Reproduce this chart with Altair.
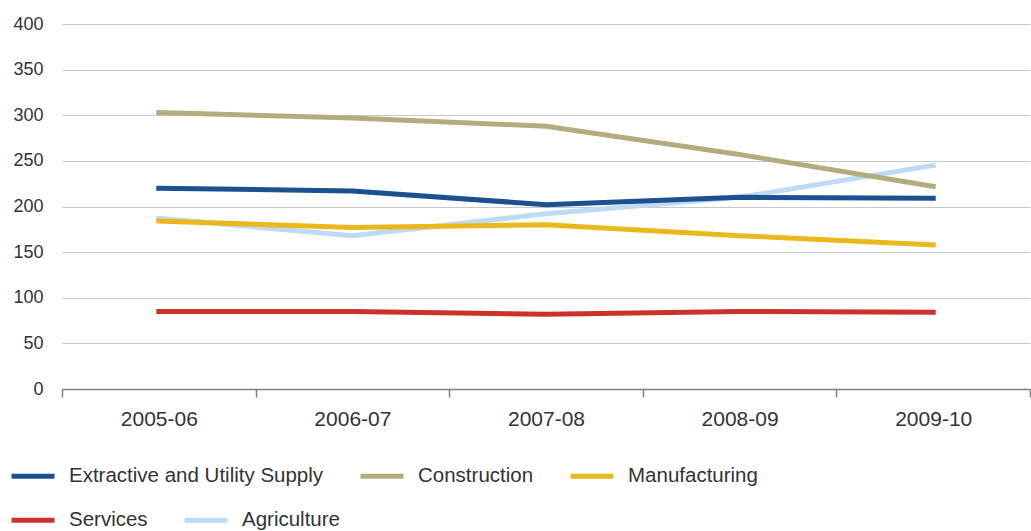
import altair as alt
import pandas as pd

years = ["2005-06", "2006-07", "2007-08", "2008-09", "2009-10"]
names_row1 = ["Extractive and Utility Supply", "Construction", "Manufacturing"]
names_row2 = ["Services", "Agriculture"]
extractive = [220, 217, 202, 210, 209]
construction = [303, 297, 288, 257, 222]
manufacturing = [184, 177, 180, 168, 158]
services = [85, 85, 82, 85, 84]
agriculture = [187, 168, 192, 210, 245]
colors_row1 = ["#1b5091", "#b3ad7e", "#ebb81b"]
colors_row2 = ["#c93328", "#bfdaf4"]
y_ticks = [0, 50, 100, 150, 200, 250, 300, 350, 400]


def build(pairs):
    rows = []
    for name, vals in pairs:
        for yr, v in zip(years, vals):
            rows.append({"Year": yr, "Sector": name, "Value": v})
    return pd.DataFrame(rows)


df1 = build([("Extractive and Utility Supply", extractive),
             ("Construction", construction),
             ("Manufacturing", manufacturing)])
df2 = build([("Services", services), ("Agriculture", agriculture)])

FONT = "Liberation Sans"

x_enc = alt.X("Year:N", sort=years, bandPosition=0.5,
              scale=alt.Scale(type="band", paddingInner=0, paddingOuter=0),
              axis=alt.Axis(title=None, labelAngle=0, tickBand="extent", labelFontSize=21,
                            labelFont=FONT, labelColor="#333333", labelPadding=11,
                            domainColor="#808080", domainWidth=1.5, tickColor="#808080",
                            tickWidth=1.5, tickSize=8, grid=False))
y_enc = alt.Y("Value:Q", scale=alt.Scale(domain=[0, 400], nice=False),
              axis=alt.Axis(title=None, values=y_ticks, domain=False, ticks=False, tickSize=0,
                            labelFontSize=18, labelFont=FONT, labelColor="#333333",
                            labelPadding=19, gridColor="#c8c8c8", gridWidth=1.2))


def legend(y):
    return alt.Legend(title=None, orient="none", legendX=-53, legendY=y,
                      direction="horizontal", symbolType="stroke", symbolSize=1849,
                      symbolStrokeWidth=5, labelFontSize=20.5, labelFont=FONT,
                      labelColor="#333333", labelOffset=12, columnPadding=26,
                      labelLimit=400, padding=0)


layer2 = alt.Chart(df2).mark_line(strokeWidth=5, strokeCap="square").encode(
    x=x_enc, y=y_enc,
    stroke=alt.Stroke("Sector:N", scale=alt.Scale(domain=names_row2, range=colors_row2),
                      legend=legend(472)),
)
layer1 = alt.Chart(df1).mark_line(strokeWidth=5, strokeCap="square").encode(
    x=x_enc, y=y_enc,
    color=alt.Color("Sector:N", scale=alt.Scale(domain=names_row1, range=colors_row1),
                    legend=legend(428)),
)

chart = alt.layer(layer2, layer1).properties(
    width=968, height=365,
    autosize="none",
    padding={"left": 62, "top": 24, "right": 1, "bottom": 142},
).configure_view(stroke=None)

chart.save("out.html", embed_options={"renderer": "svg", "actions": False})
